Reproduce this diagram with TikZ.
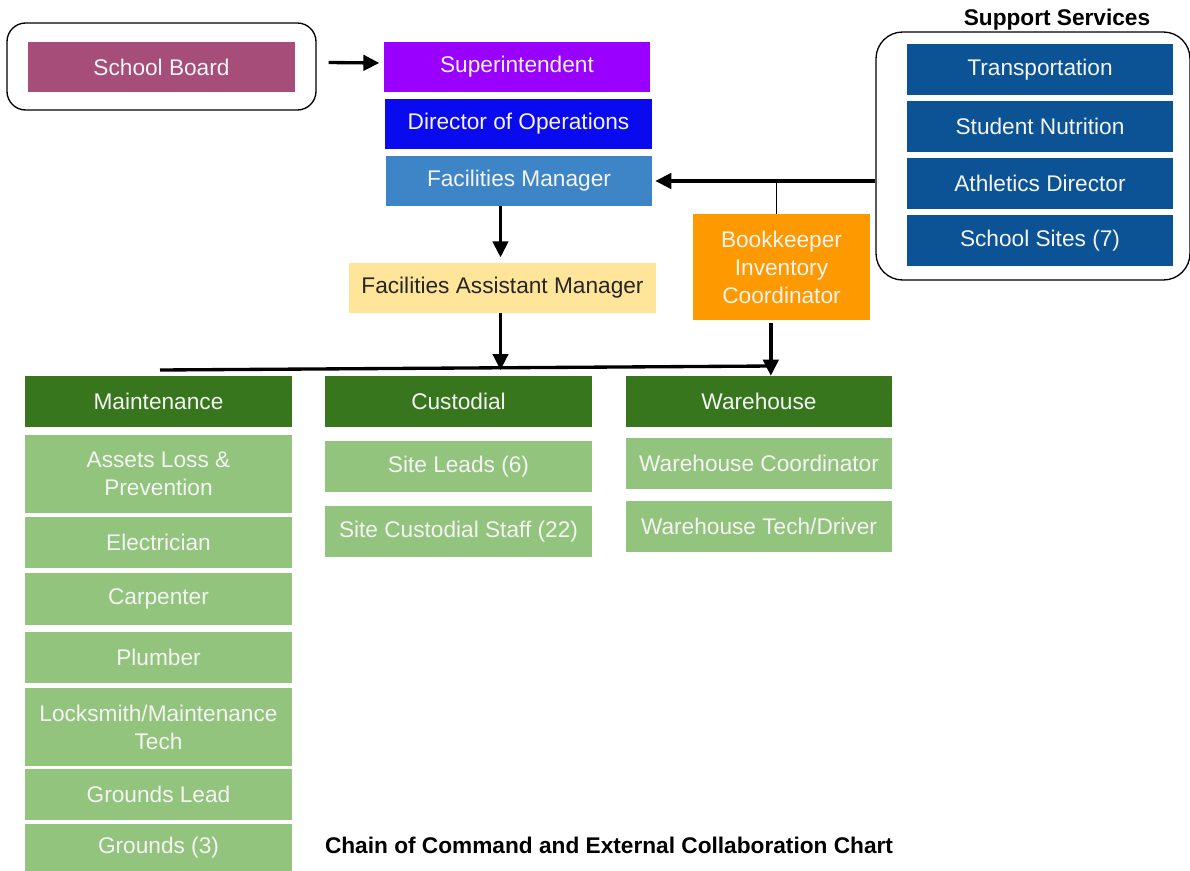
\documentclass[tikz,border=0pt]{standalone}
\usepackage{fontspec}
\setmainfont{Liberation Sans}
\usetikzlibrary{arrows.meta}
\definecolor{boardc}{HTML}{A64D79}
\definecolor{supc}{HTML}{9900FF}
\definecolor{dirc}{HTML}{0A0AEE}
\definecolor{fmc}{HTML}{3D85C6}
\definecolor{famc}{HTML}{FFE599}
\definecolor{bkc}{HTML}{FF9900}
\definecolor{ssc}{HTML}{0B5394}
\definecolor{deptc}{HTML}{38761D}
\definecolor{staffc}{HTML}{93C47D}
\definecolor{softw}{HTML}{F4F4F4}
\begin{document}
\begin{tikzpicture}[x=0.75pt,y=-0.75pt,
  box/.style={inner sep=0pt, align=center, text=softw, minimum width=200pt,
    minimum height=38.25pt, font=\fontsize{17}{21}\selectfont},
  group/.style={draw=black, line width=1pt, rounded corners=14pt, inner sep=0pt},
  dept/.style={box, fill=deptc},
  staff/.style={box, fill=staffc},
  support/.style={box, fill=ssc, minimum width=199.5pt},
  arr/.style={line width=2.5pt, -{Triangle[length=12pt,width=11.5pt]}},
  title/.style={font=\fontsize{17}{20}\selectfont\bfseries, text=black}]
\useasboundingbox (0,0) rectangle (1190,871);

% top of the chain of command
\node[group, minimum width=231.75pt, minimum height=65.25pt] (sbo) at (161.5,66.5) {};
\node[box, fill=boardc, minimum height=37.5pt] (sb) at (161.5,67) {School Board};
\node[box, fill=supc, minimum height=37.5pt] (sup) at (517,67) {Superintendent};
\node[box, fill=dirc, minimum height=37.5pt] (dir) at (518.5,124) {Director of Operations};
\node[box, fill=fmc, minimum height=37.5pt] (fm) at (519,181) {Facilities Manager};
\node[box, fill=famc, text=black!85, minimum width=230.25pt, minimum height=37.5pt] (fam) at (502.5,288) {Facilities Assistant Manager};
\node[box, fill=bkc, minimum width=132.75pt, minimum height=79.5pt] (bk) at (781.5,267) {Bookkeeper\\Inventory\\Coordinator};

% support services group
\node[title] (sst) at (1057,20) {Support Services};
\node[group, rounded corners=20pt, minimum width=235.5pt, minimum height=186pt] (ssbox) at (1033,156) {};
\node[support] (tr) at (1040,69.5) {Transportation};
\node[support] (sn) at (1040,126.5) {Student Nutrition};
\node[support] (ad) at (1040,183.5) {Athletics Director};
\node[support] (sites) at (1040,240.5) {School Sites (7)};

% maintenance column
\node[dept] (mnt) at (158.5,401.5) {Maintenance};
\node[staff, minimum height=58.5pt] (alp) at (158.5,474) {Assets Loss \&\\Prevention};
\node[staff] (elec) at (158.5,542.5) {Electrician};
\node[staff, minimum height=39pt] (carp) at (158.5,599) {Carpenter};
\node[staff] (plmb) at (158.5,657.5) {Plumber};
\node[staff, minimum height=58.5pt] (lock) at (158.5,727) {Locksmith/Maintenance\\Tech};
\node[staff] (gl) at (158.5,794.5) {Grounds Lead};
\node[staff, minimum height=36pt] (gr) at (158.5,848) {Grounds (3)};

% custodial column
\node[dept] (cus) at (458.5,401.5) {Custodial};
\node[staff] (sl) at (458.5,466.5) {Site Leads (6)};
\node[staff] (scs) at (458.5,531.5) {Site Custodial Staff (22)};

% warehouse column
\node[dept, minimum width=199.5pt] (wh) at (759,401.5) {Warehouse};
\node[staff, minimum width=199.5pt] (whc) at (759,463.5) {Warehouse Coordinator};
\node[staff, minimum width=199.5pt] (wht) at (759,526.5) {Warehouse Tech/Driver};

\node[title] (cap) at (609,845) {Chain of Command and External Collaboration Chart};

% connectors
\coordinate (barL) at (160,370);
\coordinate (barR) at (772,366);
\draw[line width=2.5pt] (barL) -- (barR);
\draw[arr] ([xshift=9pt,yshift=3pt]sbo.east) -- ([xshift=-3pt,yshift=3pt]sup.west);
\draw[arr, shorten >=4pt] ([xshift=-1.5pt]fam.north |- fm.south) -- ([xshift=-1.5pt]fam.north);
\draw[arr] ([xshift=-1.5pt]fam.south) -- ([xshift=-1.5pt]fam.south |- barL);
\draw[arr, shorten >=2pt] (ssbox.west |- fm.east) -- (fm.east);
\draw[line width=0.6pt] ([xshift=-3.5pt]bk.north) -- ([xshift=-3.5pt]bk.north |- fm.east);
\draw[arr, shorten <=2pt] ([xshift=-8pt]bk.south) -- ([xshift=-8pt]bk.south |- wh.north);
\end{tikzpicture}
\end{document}
